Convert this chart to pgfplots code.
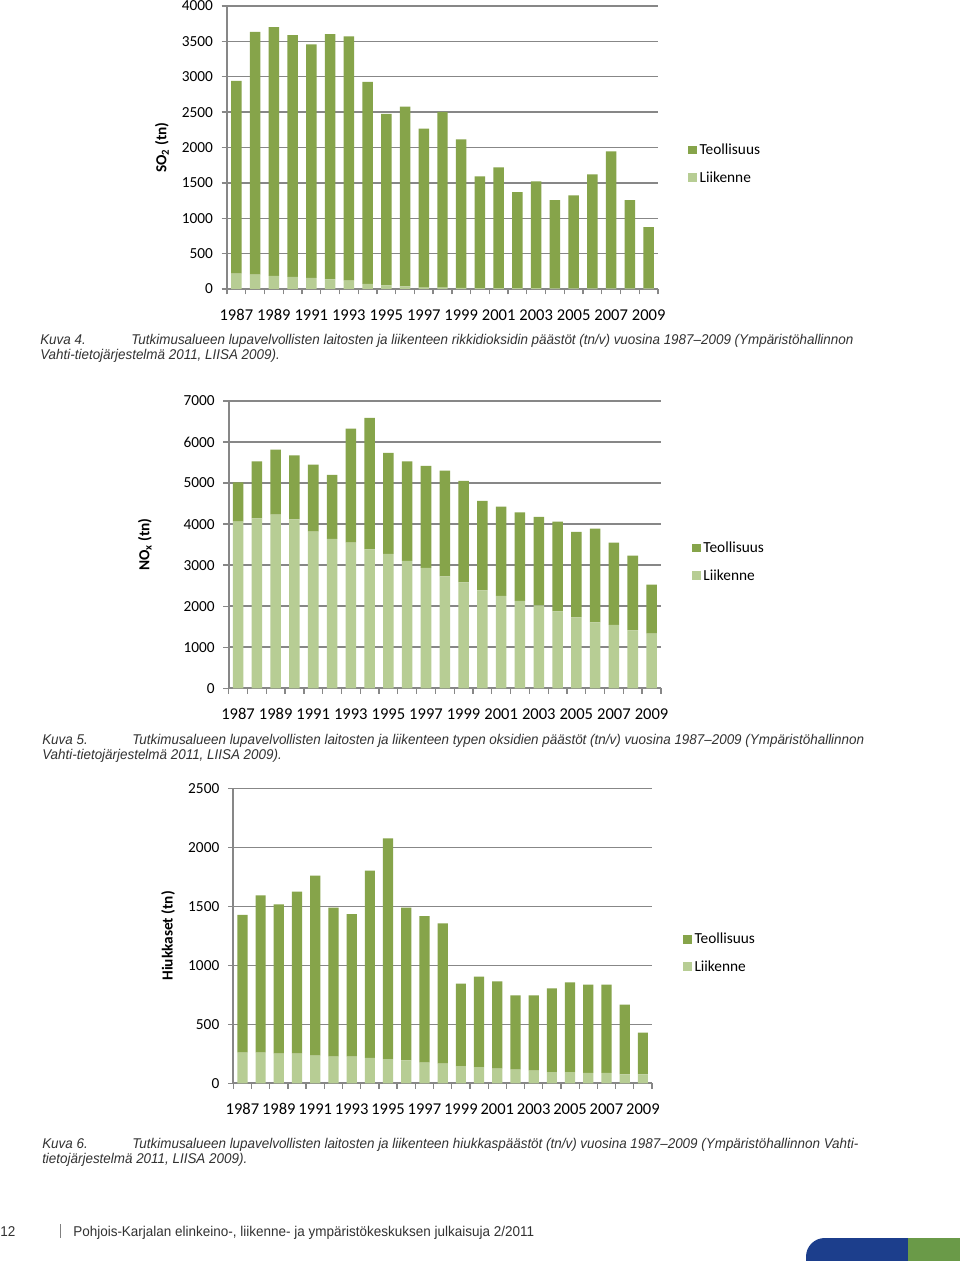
\documentclass[border=0pt]{standalone}
\usepackage{pgfplots}
\usepackage{pgfplotstable}
\pgfplotsset{compat=1.18}
\usepackage{fontspec}
\setmainfont{Carlito}
\newfontfamily\capfont[FakeStretch=0.95]{Liberation Sans}
\definecolor{teol}{RGB}{134,164,74}
\definecolor{liik}{RGB}{183,205,148}
\definecolor{gridc}{RGB}{135,135,135}
\definecolor{capc}{RGB}{50,50,50}
\definecolor{fblue}{RGB}{28,62,140}
\definecolor{fgreen}{RGB}{106,154,72}

\pgfplotstableread{
x liik teol
0 217 2725
1 203 3433
2 184 3519
3 170 3419
4 156 3301
5 137 3466
6 118 3452
7 71 2857
8 52 2423
9 38 2540
10 20 2247
11 18 2485
12 16 2100
13 14 1578
14 13 1706
15 12 1358
16 11 1510
17 10 1246
18 10 1312
19 9 1611
20 9 1937
21 8 1248
22 8 866
}\sotable

\pgfplotstableread{
x liik teol
0 4060 958
1 4141 1389
2 4231 1583
3 4117 1559
4 3816 1633
5 3638 1559
6 3548 2778
7 3386 3200
8 3272 2461
9 3102 2428
10 2931 2485
11 2728 2575
12 2582 2469
13 2387 2176
14 2249 2176
15 2127 2160
16 2022 2152
17 1876 2184
18 1730 2078
19 1608 2282
20 1543 2005
21 1413 1819
22 1332 1193
}\noxtable

\pgfplotstableread{
x liik teol
0 260 1167
1 260 1333
2 251 1266
3 251 1373
4 234 1526
5 226 1263
6 226 1209
7 215 1587
8 206 1870
9 195 1294
10 175 1243
11 167 1189
12 147 698
13 138 766
14 124 740
15 116 630
16 107 639
17 96 709
18 96 760
19 88 748
20 88 748
21 76 591
22 76 353
}\hiuktable

\pgfplotsset{
  emis/.style={
    ybar stacked, scale only axis,
    bar width=0.56,
    xmin=-0.5, xmax=22.5, ymin=0,
    axis x line*=bottom, axis y line*=left,
    axis line style={draw=gridc, line width=1.4pt},
    ymajorgrids, grid style={draw=gridc, line width=1.1pt},
    tick align=outside,
    major tick length=4pt,
    every tick/.style={draw=gridc, line width=1pt},
    xtick={-0.5,0.5,...,22.5},
    xticklabels={},
    extra x ticks={0,2,...,22},
    extra x tick labels={1987,1989,1991,1993,1995,1997,1999,2001,2003,2005,2007,2009},
    extra x tick style={major tick length=0pt, xticklabel style={yshift=-12pt}},
    xticklabel style={font=\fontsize{12.4}{14}\selectfont, text height=8pt, text depth=0pt},
    yticklabel style={font=\fontsize{11.5}{13}\selectfont, xshift=-3pt},
    /pgf/number format/assume math mode=true,
    /pgf/number format/1000 sep={},
    every axis y label/.style={rotate=90, anchor=center, font=\bfseries\fontsize{11.5}{13}\selectfont},
    legend style={draw=none, fill=none, font=\fontsize{11.5}{13}\selectfont, anchor=west, row sep=7.3pt},
    legend cell align=left,
    reverse legend,
  },
  liikplot/.style={fill=liik, draw=none, legend image code/.code={\fill[liik] (0pt,-3.3pt) rectangle (6.6pt,3.3pt);}},
  teolplot/.style={fill=teol, draw=none, legend image code/.code={\fill[teol] (0pt,-3.3pt) rectangle (6.6pt,3.3pt);}},
}

\begin{document}
\begin{tikzpicture}
\useasboundingbox (0,0) rectangle (720pt,-945.75pt);
\fill[white] (0,0) rectangle (720pt,-945.75pt);

% ---- Chart 1: SO2
\begin{axis}[emis,
  at={(170.25pt,-216.75pt)}, anchor=south west,
  width=323.25pt, height=212.25pt,
  ymax=4000, ytick={0,500,...,4000},
  ylabel={SO\textsubscript{2} (tn)},
  every axis y label/.append style={at={(rel axis cs:-0.151,0.5)}},
  legend style={at={(1.06,0.442)}},
]
\addplot[liikplot] table[x=x,y=liik]{\sotable};
\addplot[teolplot] table[x=x,y=teol]{\sotable};
\legend{Liikenne,Teollisuus}
\end{axis}

% ---- Chart 2: NOx
\begin{axis}[emis,
  at={(171.5pt,-516.2pt)}, anchor=south west,
  width=324.2pt, height=215.5pt,
  ymax=7000, ytick={0,1000,...,7000},
  ylabel={NO\textsubscript{x} (tn)},
  every axis y label/.append style={at={(rel axis cs:-0.194,0.5)}},
  legend style={at={(1.062,0.44)}},
]
\addplot[liikplot] table[x=x,y=liik]{\noxtable};
\addplot[teolplot] table[x=x,y=teol]{\noxtable};
\legend{Liikenne,Teollisuus}
\end{axis}

% ---- Chart 3: Hiukkaset
\begin{axis}[emis,
  at={(175pt,-812.5pt)}, anchor=south west,
  width=314pt, height=221.25pt,
  ymax=2500, ytick={0,500,...,2500},
  ylabel={Hiukkaset (tn)},
  every axis y label/.append style={at={(rel axis cs:-0.156,0.5)}},
  legend style={at={(1.064,0.442)}},
]
\addplot[liikplot] table[x=x,y=liik]{\hiuktable};
\addplot[teolplot] table[x=x,y=teol]{\hiuktable};
\legend{Liikenne,Teollisuus}
\end{axis}

% ---- captions
\begin{scope}[every node/.style={anchor=base west, inner sep=0pt, text=capc, font=\capfont\itshape\fontsize{10.6}{12}\selectfont}]
\node at (30pt,-258.4pt) {Kuva 4.};
\node at (98.25pt,-258.4pt) {Tutkimusalueen lupavelvollisten laitosten ja liikenteen rikkidioksidin päästöt (tn/v) vuosina 1987–2009 (Ympäristöhallinnon};
\node at (30pt,-269.6pt) {Vahti-tietojärjestelmä 2011, LIISA 2009).};
\node at (31.5pt,-558.4pt) {Kuva 5.};
\node at (99pt,-558.4pt) {Tutkimusalueen lupavelvollisten laitosten ja liikenteen typen oksidien päästöt (tn/v) vuosina 1987–2009 (Ympäristöhallinnon};
\node at (31.5pt,-569.6pt) {Vahti-tietojärjestelmä 2011, LIISA 2009).};
\node at (31.5pt,-861.4pt) {Kuva 6.};
\node at (99pt,-861.4pt) {Tutkimusalueen lupavelvollisten laitosten ja liikenteen hiukkaspäästöt (tn/v) vuosina 1987–2009 (Ympäristöhallinnon Vahti-};
\node at (31.5pt,-872.6pt) {tietojärjestelmä 2011, LIISA 2009).};
\end{scope}

% ---- footer
\begin{scope}[every node/.style={anchor=base west, inner sep=0pt, text=capc, font=\capfont\fontsize{10.65}{12}\selectfont}]
\node at (0pt,-927pt) {12};
\node at (54.75pt,-927pt) {Pohjois-Karjalan elinkeino-, liikenne- ja ympäristökeskuksen julkaisuja 2/2011};
\end{scope}
\draw[gray, line width=0.5pt] (45pt,-918pt) -- (45pt,-928.5pt);
\fill[fblue] (604.5pt,-945.75pt) [rounded corners=14pt] -- (604.5pt,-928.5pt) [sharp corners] -- (681pt,-928.5pt) -- (681pt,-945.75pt) -- cycle;
\fill[fgreen] (681pt,-928.5pt) rectangle (720pt,-945.75pt);
\end{tikzpicture}
\end{document}
